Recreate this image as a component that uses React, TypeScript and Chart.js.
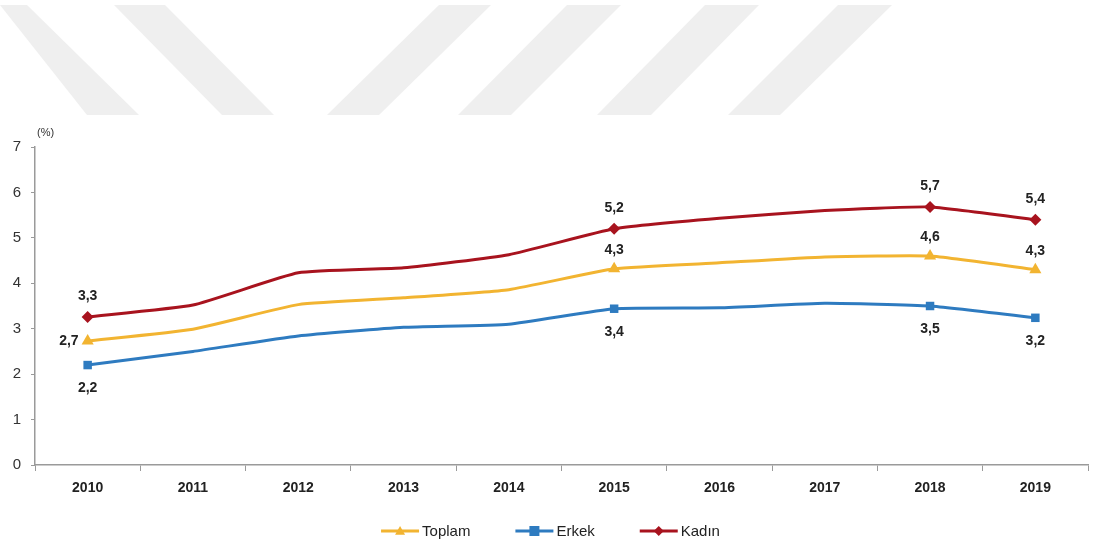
import React, { useEffect, useRef } from "react";
import { Chart, registerables } from "chart.js";

Chart.register(...registerables);

const years = ["2010", "2011", "2012", "2013", "2014", "2015", "2016", "2017", "2018", "2019"];
const toplam = [2.73, 2.99, 3.53, 3.68, 3.86, 4.32, 4.45, 4.58, 4.6, 4.3];
const erkek = [2.2, 2.5, 2.84, 3.03, 3.1, 3.44, 3.46, 3.56, 3.5, 3.24];
const kadin = [3.26, 3.52, 4.23, 4.34, 4.63, 5.2, 5.43, 5.6, 5.68, 5.4];
const markedIdx = [0, 5, 8, 9];
const seriesNames = ["Toplam", "Erkek", "Kadın"];
const seriesColors = ["#F2B431", "#2E7BC0", "#A8131E"];
const yTicks = [0, 1, 2, 3, 4, 5, 6, 7];

const FONT = "'Liberation Sans Narrow', 'Liberation Sans', Arial, sans-serif";

// light grey diagonal stripes of the page watermark (top band)
const stripes = [
  [0, 27, 87, 139],
  [114, 165, 222, 274],
  [439, 491, 327, 379],
  [567, 621, 458, 511],
  [705, 759, 597, 651],
  [838, 892, 728, 780],
];

function drawMarker(ctx: CanvasRenderingContext2D, style: string, x: number, y: number, r: number) {
  ctx.beginPath();
  if (style === "triangle") {
    ctx.moveTo(x, y - r);
    ctx.lineTo(x + r, y + r * 0.75);
    ctx.lineTo(x - r, y + r * 0.75);
  } else if (style === "rect") {
    ctx.rect(x - r, y - r, 2 * r, 2 * r);
  } else {
    ctx.moveTo(x, y - r);
    ctx.lineTo(x + r, y);
    ctx.lineTo(x, y + r);
    ctx.lineTo(x - r, y);
  }
  ctx.closePath();
  ctx.fill();
}

const pointStyles = ["triangle", "rect", "rectRot"];

export default function App() {
  const ref = useRef<HTMLCanvasElement>(null);
  useEffect(() => {
    document.body.style.margin = "0";
    const canvas = ref.current!;
    const bgPlugin = {
      id: "bg",
      beforeDraw(chart: any) {
        const ctx = chart.ctx;
        ctx.save();
        ctx.fillStyle = "#ffffff";
        ctx.fillRect(0, 0, chart.width, chart.height);
        ctx.fillStyle = "#efefef";
        for (const s of stripes) {
          ctx.beginPath();
          ctx.moveTo(s[0], 5);
          ctx.lineTo(s[1], 5);
          ctx.lineTo(s[3], 115);
          ctx.lineTo(s[2], 115);
          ctx.closePath();
          ctx.fill();
        }
        ctx.restore();
      },
    };
    const labelPlugin = {
      id: "labels",
      afterDatasetsDraw(chart: any) {
        const ctx = chart.ctx;
        ctx.save();
        ctx.font = `bold 14px ${FONT}`;
        ctx.fillStyle = "#222";
        ctx.textBaseline = "middle";
        chart.data.datasets.forEach((ds: any, di: number) => {
          const meta = chart.getDatasetMeta(di);
          markedIdx.forEach((i) => {
            const p = meta.data[i];
            const txt = ds.data[i].toFixed(1).replace(".", ",");
            let x = p.x, y = p.y;
            ctx.textAlign = "center";
            if (di === 0) {
              if (i === 0) { ctx.textAlign = "right"; x -= 9; }
              else y -= 19;
            } else if (di === 1) {
              y += 23;
            } else {
              y -= 21;
            }
            ctx.fillText(txt, x, y);
          });
        });
        // axis unit
        ctx.font = `11px ${FONT}`;
        ctx.textAlign = "left";
        ctx.fillStyle = "#333";
        ctx.fillText("(%)", chart.chartArea.left + 2, chart.chartArea.top - 14);
        // legend
        ctx.font = `15px ${FONT}`;
        const lineW = 38, gap = 3, itemGap = 45;
        const widths = seriesNames.map((n) => lineW + gap + ctx.measureText(n).width);
        const total = widths.reduce((a, b) => a + b, 0) + itemGap * (widths.length - 1);
        let x = (chart.width - total) / 2 + 3;
        const ly = 531;
        seriesNames.forEach((n, k) => {
          ctx.strokeStyle = seriesColors[k];
          ctx.fillStyle = seriesColors[k];
          ctx.lineWidth = 3;
          ctx.beginPath();
          ctx.moveTo(x, ly);
          ctx.lineTo(x + lineW, ly);
          ctx.stroke();
          drawMarker(ctx, pointStyles[k], x + lineW / 2, ly, 5);
          ctx.fillStyle = "#222";
          ctx.textAlign = "left";
          ctx.fillText(n, x + lineW + gap, ly + 1);
          x += widths[k] + itemGap;
        });
        ctx.restore();
      },
    };
    const mk = (data: number[], k: number, r: number) => ({
      label: seriesNames[k],
      data,
      borderColor: seriesColors[k],
      backgroundColor: seriesColors[k],
      borderWidth: 3,
      tension: 0.15,
      pointStyle: pointStyles[k],
      pointRadius: data.map((_, i) => (markedIdx.includes(i) ? r : 0)),
      pointBorderWidth: 0,
    });
    const chart = new Chart(canvas, {
      type: "line",
      data: {
        labels: years,
        datasets: [mk(toplam, 0, 7), mk(erkek, 1, 6), mk(kadin, 2, 6)],
      },
      options: {
        animation: false,
        responsive: false,
        layout: { padding: { top: 147, right: 1, left: 0, bottom: 0 } },
        plugins: { legend: { display: false }, tooltip: { enabled: false } },
        scales: {
          x: {
            offset: true,
            grid: { display: true, drawOnChartArea: false, offset: true, tickLength: 6, color: "#9a9a9a" },
            border: { color: "#9a9a9a", width: 1.5 },
            ticks: { color: "#222", font: { family: FONT, size: 14, weight: "bold" }, padding: 9, maxRotation: 0 },
            afterFit(scale: any) { scale.height = 82; },
          },
          y: {
            min: 0,
            max: 7,
            afterBuildTicks(scale: any) { scale.ticks = yTicks.map((v) => ({ value: v })); },
            grid: { display: true, drawOnChartArea: false, tickLength: 4, color: "#9a9a9a" },
            border: { color: "#9a9a9a", width: 1.5 },
            ticks: { color: "#333", font: { family: FONT, size: 15 }, padding: 10 },
            afterFit(scale: any) { scale.width = 35; },
          },
        },
      } as any,
      plugins: [bgPlugin, labelPlugin],
    });
    return () => chart.destroy();
  }, []);
  return <canvas ref={ref} width={1095} height={547} style={{ display: "block" }} />;
}
